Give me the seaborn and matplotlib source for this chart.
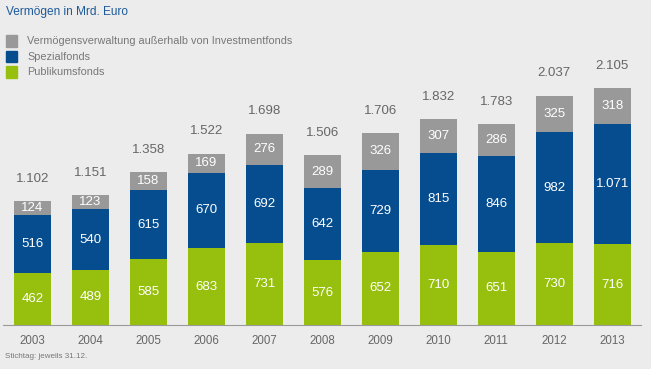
import seaborn as sns
import matplotlib.pyplot as plt
import numpy as np
import pandas as pd

years = ["2003", "2004", "2005", "2006", "2007", "2008", "2009", "2010", "2011", "2012", "2013"]
publikumsfonds = [462, 489, 585, 683, 731, 576, 652, 710, 651, 730, 716]
spezialfonds = [516, 540, 615, 670, 692, 642, 729, 815, 846, 982, 1071]
verwaltung = [124, 123, 158, 169, 276, 289, 326, 307, 286, 325, 318]
totals = [1102, 1151, 1358, 1522, 1698, 1506, 1706, 1832, 1783, 2037, 2105]

green = "#97bf0d"
blue = "#064d8f"
grey = "#999999"
bg = "#ececec"


def fmt(v):
    return f"{v:,}".replace(",", ".")


sns.set_style("white")
plt.rcParams['font.family'] = ['Liberation Sans', 'DejaVu Sans']

df = pd.DataFrame({"Jahr": years, "pub": publikumsfonds, "spez": spezialfonds, "verw": verwaltung})
df["lvl2"] = df["pub"] + df["spez"]
df["lvl3"] = df["lvl2"] + df["verw"]

fig = plt.figure(figsize=(6.51, 3.69), dpi=100, facecolor=bg)
ax = fig.add_axes([0.005, 1 - 325 / 369, 0.98, (325 - 30) / 369])
ax.set_facecolor(bg)

# layered bars, back to front
sns.barplot(data=df, x="Jahr", y="lvl3", color=grey, width=0.64, linewidth=0, saturation=1, ax=ax)
sns.barplot(data=df, x="Jahr", y="lvl2", color=blue, width=0.64, linewidth=0, saturation=1, ax=ax)
sns.barplot(data=df, x="Jahr", y="pub", color=green, width=0.64, linewidth=0, saturation=1, ax=ax)

for i in range(len(years)):
    p, s, v = publikumsfonds[i], spezialfonds[i], verwaltung[i]
    ax.text(i, p / 2, fmt(p), ha="center", va="center", color="white", fontsize=9.5)
    ax.text(i, p + s / 2, fmt(s), ha="center", va="center", color="white", fontsize=9.5)
    ax.text(i, p + s + v / 2, fmt(v), ha="center", va="center", color="white", fontsize=9.5)
    ax.annotate(fmt(totals[i]), (i, p + s + v), xytext=(0, 16), textcoords="offset points",
                ha="center", va="center", color="#666666", fontsize=9.5)

ax.set_xlim(-0.5, 10.5)
ax.set_ylim(0, 2620)
ax.set_xlabel("")
ax.set_ylabel("")
ax.set_yticks([])
sns.despine(ax=ax, left=True, top=True, right=True)
ax.spines["bottom"].set_color("#9a9a9a")
ax.spines["bottom"].set_linewidth(0.8)
ax.tick_params(axis="x", which="major", length=0, pad=7, labelsize=8.3, labelcolor="#666666")
ax.set_xticks(np.arange(-0.5, 11, 1), minor=True)
ax.tick_params(axis="x", which="minor", length=5, color="#9a9a9a", width=0.8)

# title, legend and footnote
fig.text(6 / 651, 1 - 12 / 369, "Vermögen in Mrd. Euro", color="#1d5a99", fontsize=8.6, va="center")
legend_items = [(grey, "Vermögensverwaltung außerhalb von Investmentfonds"),
                (blue, "Spezialfonds"), (green, "Publikumsfonds")]
for k, (c, lab) in enumerate(legend_items):
    yc = 41 + k * 15.5
    fig.patches.append(plt.Rectangle((6 / 651, 1 - (yc + 5.5) / 369), 11 / 651, 11 / 369,
                                     transform=fig.transFigure, color=c))
    fig.text(27 / 651, 1 - yc / 369, lab, color="#777777", fontsize=7.8, va="center")
fig.text(5 / 651, 1 - 357 / 369, "Stichtag: jeweils 31.12.", color="#777777", fontsize=5.8, va="center")

fig.savefig("out.png", dpi=100, facecolor=bg)
